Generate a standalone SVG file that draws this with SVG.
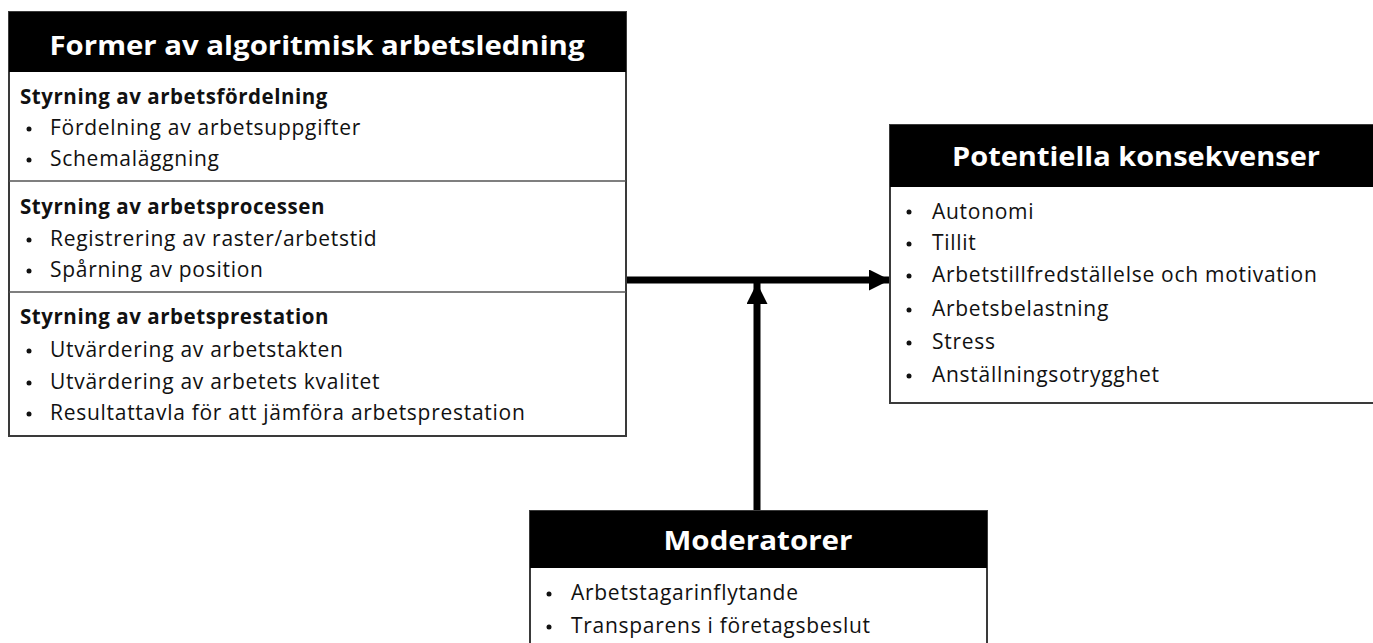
<svg xmlns="http://www.w3.org/2000/svg" width="1373" height="643" viewBox="0 0 1373 643">
<style>
.box{fill:#fff;stroke:#3a3a3a;stroke-width:2}
.hdr{fill:#000}
.div{stroke:#555;stroke-width:1.5}
.title{font-family:"Open Sans","Noto Sans",sans-serif;font-weight:bold;fill:#fff;font-size:27px;text-anchor:middle}
.sec{font-family:"Open Sans","Noto Sans",sans-serif;font-weight:bold;fill:#111;font-size:20.5px;letter-spacing:0.55px}
.item{font-family:"Open Sans","Noto Sans",sans-serif;fill:#111;font-size:21px;letter-spacing:0.72px}
.bul{fill:#111}
.conn{stroke:#000;stroke-width:7;fill:none}
</style>
<defs>
<marker id="ah" viewBox="0 0 10 10" refX="10" refY="5" markerWidth="3.1" markerHeight="3" markerUnits="strokeWidth" orient="auto">
<path d="M0,0 L10,5 L0,10 z" fill="#000"/>
</marker>
</defs>
<g id="connectors">
<line class="conn" x1="626" y1="280" x2="890" y2="280" marker-end="url(#ah)"/>
<line class="conn" x1="757" y1="511" x2="757" y2="283" marker-end="url(#ah)"/>
</g>
<g id="former">
<rect class="box" x="9" y="12" width="617" height="424"/>
<rect class="hdr" x="9" y="12" width="617" height="60"/>
<text class="title" x="317" y="55" textLength="535" lengthAdjust="spacingAndGlyphs">Former av algoritmisk arbetsledning</text>
<text class="sec" x="20" y="104">Styrning av arbetsfördelning</text>
<circle class="bul" cx="29" cy="129" r="2.5"/><text class="item" x="50" y="135">Fördelning av arbetsuppgifter</text>
<circle class="bul" cx="29" cy="160" r="2.5"/><text class="item" x="50" y="166">Schemaläggning</text>
<line class="div" x1="9" y1="181" x2="626" y2="181"/>
<text class="sec" x="20" y="214">Styrning av arbetsprocessen</text>
<circle class="bul" cx="29" cy="240" r="2.5"/><text class="item" x="50" y="246">Registrering av raster/arbetstid</text>
<circle class="bul" cx="29" cy="271" r="2.5"/><text class="item" x="50" y="277">Spårning av position</text>
<line class="div" x1="9" y1="292" x2="626" y2="292"/>
<text class="sec" x="20" y="324">Styrning av arbetsprestation</text>
<circle class="bul" cx="29" cy="351" r="2.5"/><text class="item" x="50" y="357">Utvärdering av arbetstakten</text>
<circle class="bul" cx="29" cy="383" r="2.5"/><text class="item" x="50" y="389">Utvärdering av arbetets kvalitet</text>
<circle class="bul" cx="29" cy="414" r="2.5"/><text class="item" x="50" y="420">Resultattavla för att jämföra arbetsprestation</text>
</g>
<g id="konsekvenser">
<rect class="box" x="890" y="125" width="490" height="278"/>
<rect class="hdr" x="890" y="125" width="490" height="62"/>
<text class="title" x="1136" y="166" textLength="368" lengthAdjust="spacingAndGlyphs">Potentiella konsekvenser</text>
<circle class="bul" cx="909" cy="212" r="2.5"/><text class="item" x="932" y="219">Autonomi</text>
<circle class="bul" cx="909" cy="244" r="2.5"/><text class="item" x="932" y="250">Tillit</text>
<circle class="bul" cx="909" cy="276" r="2.5"/><text class="item" x="932" y="282">Arbetstillfredställelse och motivation</text>
<circle class="bul" cx="909" cy="310" r="2.5"/><text class="item" x="932" y="316">Arbetsbelastning</text>
<circle class="bul" cx="909" cy="343" r="2.5"/><text class="item" x="932" y="349">Stress</text>
<circle class="bul" cx="909" cy="376" r="2.5"/><text class="item" x="932" y="382">Anställningsotrygghet</text>
</g>
<g id="moderatorer">
<rect class="box" x="530" y="511" width="457" height="150"/>
<rect class="hdr" x="530" y="511" width="457" height="57"/>
<text class="title" x="758" y="550" textLength="189" lengthAdjust="spacingAndGlyphs">Moderatorer</text>
<circle class="bul" cx="549" cy="594" r="2.5"/><text class="item" x="571" y="600">Arbetstagarinflytande</text>
<circle class="bul" cx="549" cy="627" r="2.5"/><text class="item" x="571" y="633">Transparens i företagsbeslut</text>
</g>
</svg>
